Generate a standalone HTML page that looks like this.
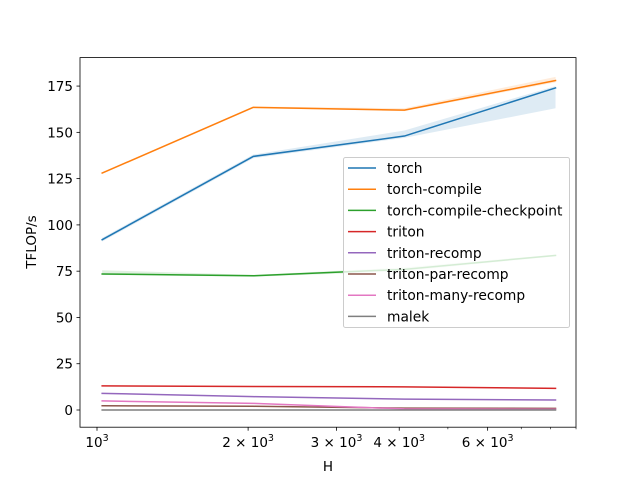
<!DOCTYPE html>
<html><head><meta charset="utf-8"><style>
body{margin:0;background:#fff;}
svg{font-family:"DejaVu Sans","Liberation Sans",sans-serif;}
</style></head><body>
<svg id="chart" width="640" height="480" viewBox="0 0 640 480">
<rect x="0" y="0" width="640" height="480" fill="#fff"/>
<g id="bands"></g>
<g id="lines"></g>
<rect x="80" y="57.6" width="496" height="369.6" fill="none" stroke="#000" stroke-width="0.8"/>
<g id="xticks" font-size="13.5"></g>
<g id="yticks" font-size="13.5"></g>
<text x="328" y="471" text-anchor="middle" font-size="13.5">H</text>
<text transform="translate(36,242) rotate(-90)" text-anchor="middle" font-size="13.5">TFLOP/s</text>
<g id="legend"></g>
</svg>
<script>
const xs = [1024, 2048, 4096, 8192];
const seriesNames = ["torch","torch-compile","torch-compile-checkpoint","triton","triton-recomp","triton-par-recomp","triton-many-recomp","malek"];
const colors = ["#1f77b4","#ff7f0e","#2ca02c","#d62728","#9467bd","#8c564b","#e377c2","#7f7f7f"];
const torch = [92, 137, 148, 174];
const torchCompile = [128, 163.5, 162, 178];
const torchCheckpoint = [73.5, 72.5, 76, 83.5];
const triton = [13, 12.7, 12.5, 11.7];
const tritonRecomp = [9, 7.2, 5.9, 5.4];
const tritonParRecomp = [2.3, 2, 1, 0.9];
const tritonManyRecomp = [4.9, 3.6, 0.6, 0.4];
const malek = [0, 0, 0, 0];
const torchLow = [91, 136, 147, 163];
const torchHigh = [93, 138, 151, 175];
const compileLow = [127.5, 163, 161.5, 177];
const compileHigh = [128.5, 164, 163, 180];
const checkpointLow = [73, 72, 75, 83];
const checkpointHigh = [75.5, 73, 77, 84];
const yTicks = [0, 25, 50, 75, 100, 125, 150, 175];
const xMajor = [1000, 2000, 3000, 4000, 6000];
const xMajorLabels = ["10^3","2 × 10^3","3 × 10^3","4 × 10^3","6 × 10^3"];
const xMinor = [5000, 7000, 8000, 9000];

const allSeries = [torch, torchCompile, torchCheckpoint, triton, tritonRecomp, tritonParRecomp, tritonManyRecomp, malek];
const NS = "http://www.w3.org/2000/svg";
function X(v){ return 97 + 502 * Math.log10(v / 1000); }
function Y(v){ return 410 - 1.851 * v; }
function mk(tag, attrs, parent){ const e=document.createElementNS(NS,tag); for(const k in attrs) e.setAttribute(k,attrs[k]); parent.appendChild(e); return e; }

const bands = document.getElementById('bands');
[[torchLow,torchHigh,0],[compileLow,compileHigh,1],[checkpointLow,checkpointHigh,2]].forEach(([lo,hi,i])=>{
  let d = xs.map((x,j)=>(j?'L':'M')+X(x)+','+Y(hi[j])).join(' ');
  d += ' ' + xs.slice().reverse().map((x,j)=>'L'+X(x)+','+Y(lo[xs.length-1-j])).join(' ') + ' Z';
  const p = mk('path',{d:d,fill:colors[i],'fill-opacity':0.15,stroke:'none'},bands);
  
  
});
const lines = document.getElementById('lines');
allSeries.forEach((s,i)=>{
  const pts = xs.map((x,j)=>X(x)+','+Y(s[j])).join(' ');
  const p = mk('polyline',{points:pts,fill:'none',stroke:colors[i],'stroke-width':1.5,'stroke-linejoin':'round','stroke-linecap':'square'},lines);
  
  
});
const xt = document.getElementById('xticks');
xMajor.forEach((v,i)=>{
  const x = X(v);
  mk('line',{x1:x,x2:x,y1:427.2,y2:430.7,stroke:'#000','stroke-width':0.8},xt);
  const parts = xMajorLabels[i].split('^');
  const t = mk('text',{x:x,y:447,'text-anchor':'middle','xml:space':'preserve'},xt);
  
  
  t.appendChild(document.createTextNode(parts[0]));
  const sup = mk('tspan',{dy:-6,'font-size':9.5},t);
  sup.textContent = parts[1];
});
xMinor.forEach(v=>{
  const x = X(v);
  mk('line',{x1:x,x2:x,y1:427.2,y2:429.2,stroke:'#000','stroke-width':0.6},xt);
});
const yt = document.getElementById('yticks');
yTicks.forEach(v=>{
  const y = Y(v);
  mk('line',{x1:76.5,x2:80,y1:y,y2:y,stroke:'#000','stroke-width':0.8},yt);
  const t = mk('text',{x:73,y:y+5,'text-anchor':'end'},yt);
  
  
  t.textContent = v;
});
const lg = document.getElementById('legend');
mk('rect',{x:343.5,y:157.5,width:226,height:170,rx:2,fill:'#fff','fill-opacity':0.8,stroke:'#ccc','stroke-width':1},lg);
seriesNames.forEach((n,i)=>{
  const y = 168 + i*21.2;
  const l = mk('line',{x1:348,x2:376,y1:y,y2:y,stroke:colors[i],'stroke-width':1.5},lg);
  
  
  const t = mk('text',{x:387,y:y+5,'font-size':13.8},lg);
  
  
  t.textContent = n;
});
</script>
</body></html>
